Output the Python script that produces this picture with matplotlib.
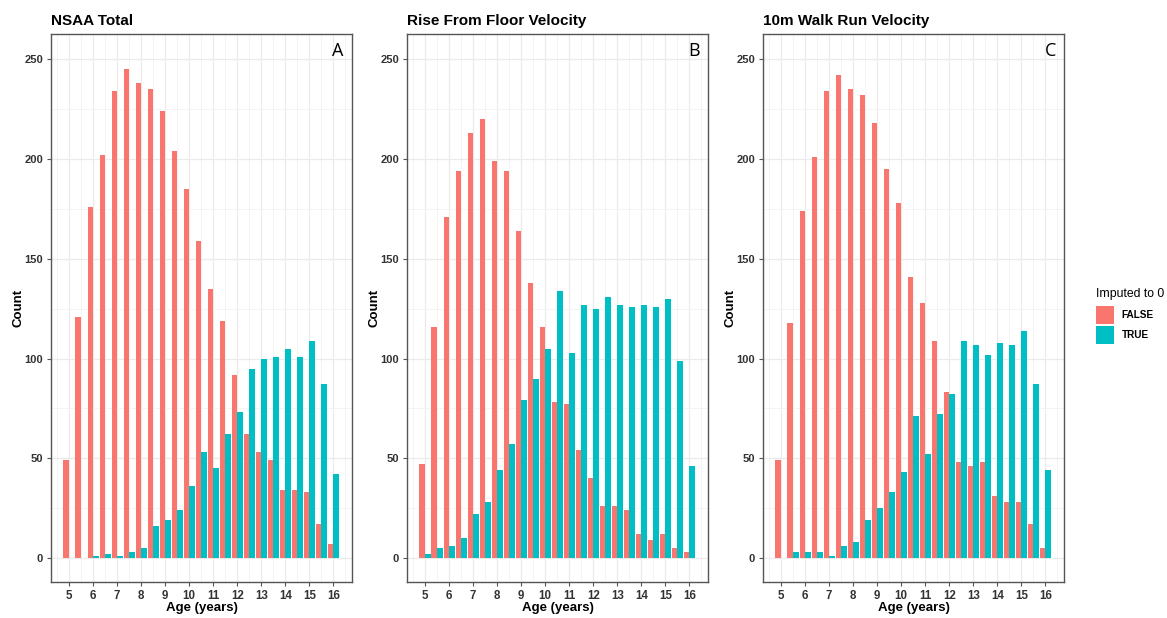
import numpy as np
import matplotlib
matplotlib.use("Agg")
import matplotlib.pyplot as plt
from matplotlib.patches import Patch

ages = [5, 5.5, 6, 6.5, 7, 7.5, 8, 8.5, 9, 9.5, 10, 10.5, 11, 11.5, 12,
        12.5, 13, 13.5, 14, 14.5, 15, 15.5, 16]

nsaa_false = [49, 121, 176, 202, 234, 245, 238, 235, 224, 204, 185, 159, 135,
              119, 92, 62, 53, 49, 34, 34, 33, 17, 7]
nsaa_true = [0, 0, 1, 2, 1, 3, 5, 16, 19, 24, 36, 53, 45, 62, 73, 95, 100,
             101, 105, 101, 109, 87, 42]

rise_false = [47, 116, 171, 194, 213, 220, 199, 194, 164, 138, 116, 78, 77,
              54, 40, 26, 26, 24, 12, 9, 12, 5, 3]
rise_true = [2, 5, 6, 10, 22, 28, 44, 57, 79, 90, 105, 134, 103, 127, 125,
             131, 127, 126, 127, 126, 130, 99, 46]

walk_false = [49, 118, 174, 201, 234, 242, 235, 232, 218, 195, 178, 141, 128,
              109, 83, 48, 46, 48, 31, 28, 28, 17, 5]
walk_true = [0, 3, 3, 3, 1, 6, 8, 19, 25, 33, 43, 71, 52, 72, 82, 109, 107,
             102, 108, 107, 114, 87, 44]

titles = ["NSAA Total", "Rise From Floor Velocity", "10m Walk Run Velocity"]
letters = ["A", "B", "C"]
x_ticks = list(range(5, 17))
y_ticks = [0, 50, 100, 150, 200, 250]
legend_title = "Imputed to 0"
legend_labels = ["FALSE", "TRUE"]

RED = "#F8766D"
TEAL = "#00BFC4"
GRID = "#EBEBEB"
FRAME = "#555555"
FONT = "Liberation Sans"

W, H = 1167, 618
fig = plt.figure(figsize=(W / 100, H / 100), dpi=100)
fig.patch.set_facecolor("white")

lefts = [50.7, 406.7, 762.7]
ax_w = 301.6
top_px, bot_px = 34.0, 581.7
ax_h = bot_px - top_px

series = [(nsaa_false, nsaa_true), (rise_false, rise_true), (walk_false, walk_true)]
ages_arr = np.array(ages)
bw = 0.23

for i, (f_vals, t_vals) in enumerate(series):
    ax = fig.add_axes([lefts[i] / W, 1 - bot_px / H, ax_w / W, ax_h / H])
    ax.set_facecolor("white")
    ax.bar(ages_arr - bw / 2, f_vals, width=bw, color=RED, zorder=3)
    ax.bar(ages_arr + bw / 2, t_vals, width=bw, color=TEAL, zorder=3)
    ax.set_xlim(4.238, 16.79)
    ax.set_ylim(-11.8, 262.6)
    ax.set_xticks(x_ticks)
    ax.set_xticks(np.arange(4.5, 17.0, 0.5), minor=True)
    ax.set_yticks(y_ticks)
    ax.set_yticks(np.arange(25, 262, 50), minor=True)
    ax.grid(which="major", color=GRID, linewidth=0.9, zorder=0)
    ax.grid(which="minor", color="#F3F3F3", linewidth=0.6, zorder=0)
    ax.set_axisbelow(True)
    for sp in ax.spines.values():
        sp.set_color(FRAME)
        sp.set_linewidth(1.0)
    ax.tick_params(which="major", length=3, color=FRAME, width=0.8, pad=2.5)
    ax.tick_params(axis="y", which="major", labelsize=8)
    ax.tick_params(axis="x", which="major", pad=3.0, labelsize=8.3)
    ax.tick_params(which="minor", length=0)
    for lab in ax.get_xticklabels() + ax.get_yticklabels():
        lab.set_fontweight("bold")
        lab.set_fontfamily(FONT)
        lab.set_color("#333333")
    ax.set_xlabel("Age (years)", fontsize=9.5, fontweight="bold", family=FONT)
    ax.xaxis.set_label_coords(0.5, -(608 - bot_px) / ax_h)
    ax.xaxis.label.set_va("center")
    ax.set_ylabel("Count", fontsize=9.5, fontweight="bold", family=FONT)
    ax.yaxis.set_label_coords(-(32.5) / ax_w, 0.5)
    ax.yaxis.label.set_va("center")
    ax.set_title(titles[i], loc="left", fontsize=11, fontweight="bold",
                 family=FONT, pad=6.5)
    ax.text(1 - 8.5 / ax_w, 1 - 8 / ax_h, letters[i], transform=ax.transAxes,
            ha="right", va="top", fontsize=13, family="Open Sans")

handles = [Patch(facecolor=RED, edgecolor="none"),
           Patch(facecolor=TEAL, edgecolor="none")]
leg = fig.legend(handles, legend_labels, title=legend_title, loc="upper left",
                 bbox_to_anchor=(1091 / W, 1 - 283 / H), frameon=False,
                 borderpad=0, handlelength=1.8, handleheight=2.4,
                 handletextpad=0.75, labelspacing=0.2,
                 prop={"family": FONT, "weight": "bold", "size": 7.2},
                 title_fontproperties={"family": FONT, "size": 8.8})
leg._legend_box.align = "left"
leg._legend_box.sep = 4

fig.savefig("out.png", dpi=100)
